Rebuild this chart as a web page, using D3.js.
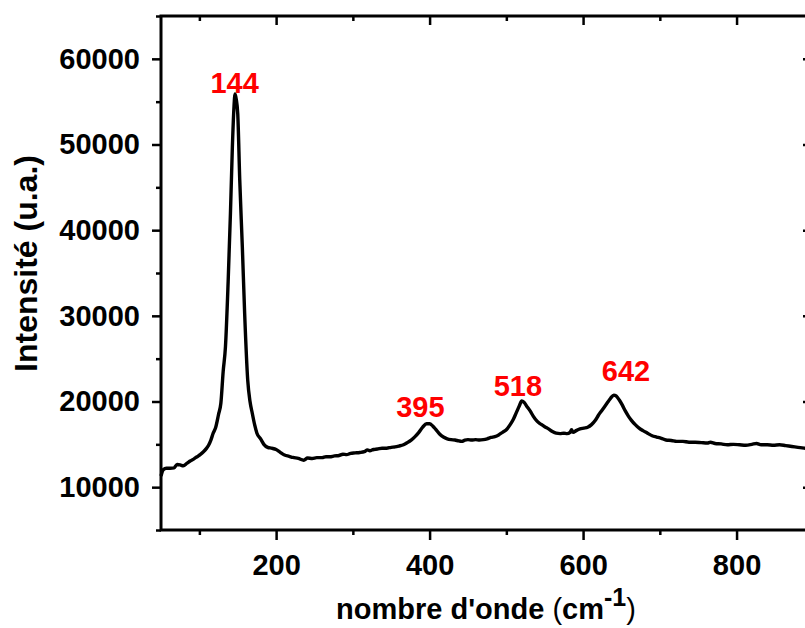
<!DOCTYPE html>
<html>
<head>
<meta charset="utf-8">
<script src="https://cdn.jsdelivr.net/npm/d3@7"></script>
<style>
  html, body { margin: 0; padding: 0; background: #fff; overflow: hidden; }
  svg { display: block; }
  text { font-family: "Liberation Sans", Arial, sans-serif; }
</style>
</head>
<body>
<svg id="chart" width="805" height="628"></svg>
<script>
// ---- data ----
const wavenumber = [50,53,57,62,67,71,75,79,84,88,93,97,101,105,109,112,115,118,121,125,128,131,134,137.5,140.5,143,145,146.5,148,150,152.6,156,159,163,166,169,172,175,180,184,189,194,200,205,211,217,222,229,236,241,247,253,260,265,270,276,282,287,292,297,303,309,315,319,322,327,332,338,344,350,355,360,366,371,376,381,386,391,396,400,404,408,413,418,423,428,433,438,442,446,450,455,460,465,470,475,480,485,490,495,500,505,509,513,517,520,523,527,531,535,540,545,550,555,560,565,570,575,579,583,585,587,591,596,601,606,611,616,620,624,628,632,636,640,643,647,651,655,659,663,668,673,678,684,690,696,702,708,715,722,730,738,746,754,762,766,772,780,788,796,804,812,820,826,832,840,848,856,864,872,880,888,897];
const intensity = [11300,12050,12200,12200,12250,12650,12600,12500,12800,13050,13300,13550,13800,14100,14500,14900,15500,16300,16900,18500,19800,23500,26400,34000,42000,49700,54200,55900,55300,53600,45900,38000,30300,22500,20000,18600,17300,16300,15600,15000,14650,14550,14400,14100,13750,13600,13470,13350,13150,13400,13350,13450,13450,13550,13550,13650,13700,13850,13800,13950,14000,14050,14150,14350,14250,14400,14450,14550,14550,14650,14700,14800,14950,15200,15500,15900,16400,17000,17400,17400,17150,16750,16200,15850,15650,15550,15500,15400,15350,15500,15550,15500,15550,15500,15550,15650,15800,15900,16100,16400,16700,17300,17900,18700,19500,20050,19900,19400,18900,18300,17700,17350,17050,16800,16500,16300,16250,16300,16250,16400,16700,16400,16600,16800,16900,17000,17300,17800,18400,18900,19400,19900,20400,20750,20650,20200,19600,18900,18300,17800,17300,16900,16600,16300,16000,15850,15700,15500,15450,15350,15350,15250,15250,15200,15150,15250,15100,15050,14950,15000,14950,14900,15000,15100,14950,14950,14900,14950,14850,14750,14650,14550,14450];

const xMajorTicks = [200, 400, 600, 800];
const xMinorTicks = [100, 300, 500, 700];
const yMajorTicks = [10000, 20000, 30000, 40000, 50000, 60000];
const yMinorTicks = [5000, 15000, 25000, 35000, 45000, 55000, 65000];

const peakLabels = ["144", "395", "518", "642"];
const peakLabelX = [146, 388, 515, 656];
const peakLabelY = [56000, 18150, 20600, 22350];

const xTitle = "nombre d'onde";
const yTitle = "Intensité (u.a.)";

// ---- layout ----
const svg = d3.select("#chart");
const mLeft = 161, mRight = 811, mTop = 16, mBottom = 530;

const x = d3.scaleLinear().domain([50, 897]).range([mLeft, mRight]);
const y = d3.scaleLinear().domain([5000, 65000]).range([mBottom, mTop]);

const tickFont = "bold 29px 'Liberation Sans', Arial, sans-serif";

function styleAxis(g) {
  g.select(".domain").remove();
  g.selectAll(".tick line").attr("stroke", "#000").attr("stroke-width", 2.5);
  g.selectAll(".tick text").style("font", tickFont).attr("fill", "#000");
}

// bottom axis major + minor
svg.append("g").attr("transform", `translate(0,${mBottom})`)
  .call(d3.axisBottom(x).tickValues(xMajorTicks).tickSize(10).tickPadding(14).tickFormat(d3.format("d")))
  .call(styleAxis);
svg.append("g").attr("transform", `translate(0,${mBottom})`)
  .call(d3.axisBottom(x).tickValues(xMinorTicks).tickSize(5).tickFormat(""))
  .call(styleAxis);
// top axis inward
svg.append("g").attr("transform", `translate(0,${mTop})`)
  .call(d3.axisBottom(x).tickValues(xMajorTicks).tickSize(9).tickFormat(""))
  .call(styleAxis);
svg.append("g").attr("transform", `translate(0,${mTop})`)
  .call(d3.axisBottom(x).tickValues(xMinorTicks).tickSize(5).tickFormat(""))
  .call(styleAxis);
// left axis major + minor
svg.append("g").attr("transform", `translate(${mLeft},0)`)
  .call(d3.axisLeft(y).tickValues(yMajorTicks).tickSize(9).tickPadding(12).tickFormat(d3.format("d")))
  .call(styleAxis);
svg.append("g").attr("transform", `translate(${mLeft},0)`)
  .call(d3.axisLeft(y).tickValues(yMinorTicks).tickSize(5).tickFormat(""))
  .call(styleAxis);
// right axis inward
svg.append("g").attr("transform", `translate(${mRight},0)`)
  .call(d3.axisLeft(y).tickValues(yMajorTicks).tickSize(8).tickFormat(""))
  .call(styleAxis);
svg.append("g").attr("transform", `translate(${mRight},0)`)
  .call(d3.axisLeft(y).tickValues(yMinorTicks).tickSize(4).tickFormat(""))
  .call(styleAxis);

// frame
svg.append("rect")
  .attr("x", mLeft).attr("y", mTop)
  .attr("width", mRight - mLeft).attr("height", mBottom - mTop)
  .attr("fill", "none").attr("stroke", "#000").attr("stroke-width", 3);

// curve
const pts = wavenumber.map((w, i) => [w, intensity[i]]);
const line = d3.line().x(d => x(d[0])).y(d => y(d[1])).curve(d3.curveMonotoneX);
svg.append("path")
  .datum(pts)
  .attr("d", line)
  .attr("fill", "none")
  .attr("stroke", "#000")
  .attr("stroke-width", 3.4)
  .attr("stroke-linejoin", "round");

// peak labels
svg.selectAll("text.peak")
  .data(peakLabels)
  .enter().append("text")
  .attr("class", "peak")
  .attr("x", (d, i) => x(peakLabelX[i]))
  .attr("y", (d, i) => y(peakLabelY[i]))
  .attr("text-anchor", "middle")
  .attr("fill", "#ff0000")
  .style("font", tickFont)
  .text(d => d);

// x title
const xt = svg.append("text")
  .attr("x", (mLeft + mRight) / 2)
  .attr("y", 619)
  .attr("text-anchor", "middle")
  .attr("fill", "#000")
  .style("font-size", "29px");
xt.append("tspan").style("font-weight", "bold").text(xTitle + " ");
xt.append("tspan").style("font-weight", "normal").text("(");
xt.append("tspan").style("font-weight", "bold").text("cm");
xt.append("tspan").style("font-weight", "bold").style("font-size", "25px").attr("dy", "-13").text("-1");
xt.append("tspan").style("font-weight", "normal").attr("dy", "13").text(")");

// y title
svg.append("text")
  .attr("transform", `translate(37,${(152 + 375) / 2}) rotate(-90)`)
  .attr("text-anchor", "middle")
  .attr("fill", "#000")
  .style("font", "bold 32px 'Liberation Sans', Arial, sans-serif")
  .text(yTitle);
</script>
</body>
</html>
